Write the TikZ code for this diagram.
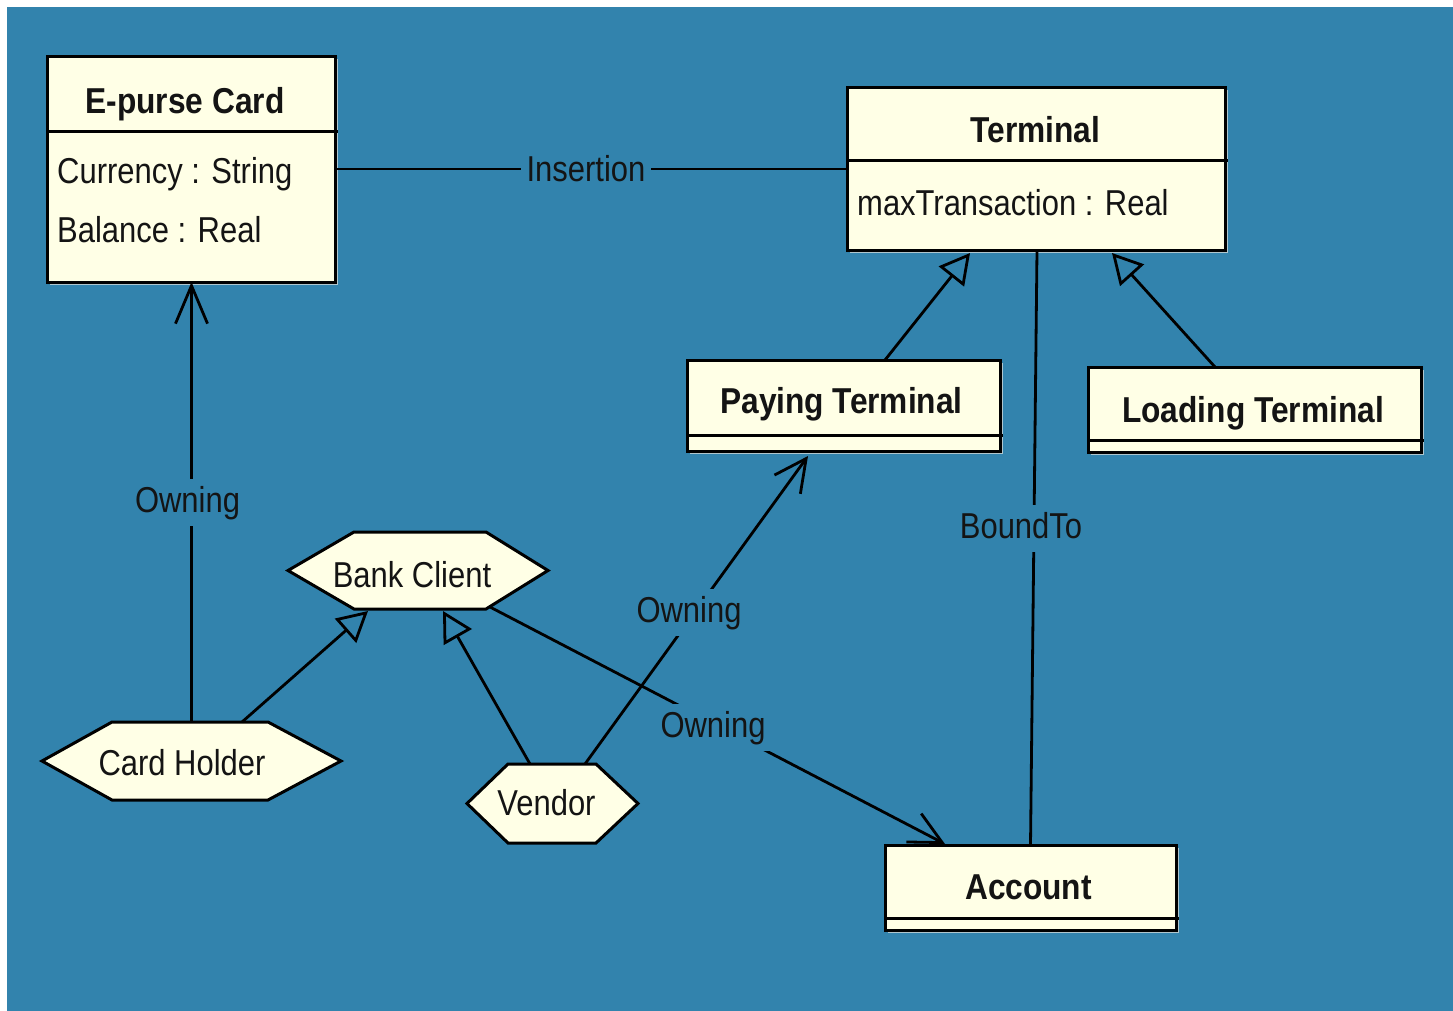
\documentclass[tikz,border=0pt]{standalone}
\usepackage{fontspec}
\setmainfont{Liberation Sans}[UprightFeatures={FakeStretch=0.86},BoldFeatures={FakeStretch=0.88}]
\usetikzlibrary{arrows.meta,calc,shadows}
\definecolor{bgblue}{RGB}{50,131,173}
\definecolor{paper}{RGB}{255,255,230}
\definecolor{shade}{RGB}{175,198,206}
\definecolor{ink}{RGB}{20,20,20}

\begin{document}
\begin{tikzpicture}[x=1pt,y=-1pt,
  every node/.style={font=\fontsize{36}{40}\selectfont, text=ink},
  classbox/.style={draw=black, fill=paper, line width=3pt, inner sep=0pt, outer sep=0pt,
    drop shadow={shadow xshift=3pt, shadow yshift=-3pt, opacity=1, fill=shade}},
  hexbox/.style={inner sep=0pt, outer sep=0pt},
  hexshape/.style={draw=black, fill=paper, line width=3pt, line join=miter},
  title/.style={font=\fontsize{36}{40}\selectfont\bfseries, anchor=base, inner sep=0pt},
  attr/.style={anchor=base west, inner sep=0pt},
  actor/.style={anchor=base, inner sep=0pt},
  lbl/.style={anchor=base, fill=bgblue, inner xsep=6pt, inner ysep=5pt, text height=28pt, text depth=9pt},
  link/.style={draw=black, line width=2.8pt},
  nav/.style={link, -{Straight Barb[length=32pt,width=32pt]}},
  navlong/.style={link, -{Straight Barb[length=38pt,width=32pt]}},
  gen/.style={link, -{Triangle[open,length=30pt,width=32pt]}},
  sep/.style={draw=black, line width=3pt}
]
\useasboundingbox (0,0) rectangle (1453,1010);
\fill[white] (0,0) rectangle (1453,1010);
\fill[bgblue] (7,7) rectangle (1460,1020);

% classes
\node[classbox, minimum width=288pt, minimum height=226pt] (card) at (191,169) {};
\node[classbox, minimum width=378pt, minimum height=163pt] (term) at (1036,168.5) {};
\node[classbox, minimum width=313pt, minimum height=91pt] (pay) at (843.5,405.5) {};
\node[classbox, minimum width=333pt, minimum height=85pt] (load) at (1254.5,409.5) {};
\node[classbox, minimum width=291pt, minimum height=85pt] (acc) at (1030.5,887.5) {};

% compartment separators
\draw[sep] ($(card.north west)+(0,75)$) -- ($(card.north east)+(3,75)$);
\draw[sep] ($(term.north west)+(0,73)$) -- ($(term.north east)+(3,73)$);
\draw[sep] ($(pay.north west)+(0,75)$) -- ($(pay.north east)+(3,75)$);
\draw[sep] ($(load.north west)+(0,73)$) -- ($(load.north east)+(3,73)$);
\draw[sep] ($(acc.north west)+(0,73)$) -- ($(acc.north east)+(3,73)$);

% class texts
\node[title] (card-t) at (185,113) {E-purse Card};
\node[attr] (card-a1) at (57,183) {Currency : String};
\node[attr] (card-a2) at (57,242) {Balance : Real};
\node[title] (term-t) at (1035.5,142) {Terminal};
\node[attr] (term-a1) at (857,215) {maxTransaction : Real};
\node[title] (pay-t) at (841.5,413) {Paying Terminal};
\node[title] (load-t) at (1253,422) {Loading Terminal};
\node[title] (acc-t) at (1028.5,899) {Account};

% actor hexagons
\node[hexbox, minimum width=260pt, minimum height=77pt] (bc) at (418,570.5) {};
\node[hexbox, minimum width=299pt, minimum height=78pt] (ch) at (191.5,761) {};
\node[hexbox, minimum width=171pt, minimum height=79pt] (vd) at (552.5,803.5) {};

\draw[hexshape] (bc.west) -- ($(bc.north west)+(66,0)$) -- ($(bc.north east)+(-62,0)$) -- (bc.east)
  -- ($(bc.south east)+(-62,0)$) -- ($(bc.south west)+(66,0)$) -- cycle;
\draw[hexshape] (ch.west) -- ($(ch.north west)+(70,0)$) -- ($(ch.north east)+(-73,0)$) -- (ch.east)
  -- ($(ch.south east)+(-73,0)$) -- ($(ch.south west)+(70,0)$) -- cycle;
\draw[hexshape] (vd.west) -- ($(vd.north west)+(41,0)$) -- ($(vd.north east)+(-42,0)$) -- (vd.east)
  -- ($(vd.south east)+(-42,0)$) -- ($(vd.south west)+(41,0)$) -- cycle;

\node[actor] (bc-t) at (412,587) {Bank Client};
\node[actor] (ch-t) at (182,775) {Card Holder};
\node[actor] (vd-t) at (546.5,815) {Vendor};

% associations
\draw[link] (card.east) -- (card.east -| term.west);
\draw[navlong] (ch.north) -- (ch.north |- card.south);
\draw[nav] ($(bc.south)+(72,-2)$) -- ($(acc.north)+(-85.5,-1)$);
\draw[nav] ($(vd.north)+(32.5,0)$) -- ($(pay.south)+(-35.5,5)$);
\draw[link] (acc.north) -- ($(term.south)+(1,0)$);

% generalisations
\draw[gen] ($(ch.north)+(50.5,0)$) -- ($(bc.south)+(-50,2)$);
\draw[gen] ($(vd.north)+(-22.5,0)$) -- ($(bc.south)+(25,2)$);
\draw[gen] ($(pay.north)+(41.5,0)$) -- ($(term.south)+(-66,3)$);
\draw[gen] ($(load.north)+(-39.5,0)$) -- ($(term.south)+(76,3)$);

% association labels
\node[lbl] (ins-l) at (586,181) {Insertion};
\node[lbl] (own-l1) at (187.5,512) {Owning};
\node[lbl] (own-l2) at (689,622) {Owning};
\node[lbl] (own-l3) at (713,737) {Owning};
\node[lbl] (bnd-l) at (1021,538) {BoundTo};
\end{tikzpicture}
\end{document}
